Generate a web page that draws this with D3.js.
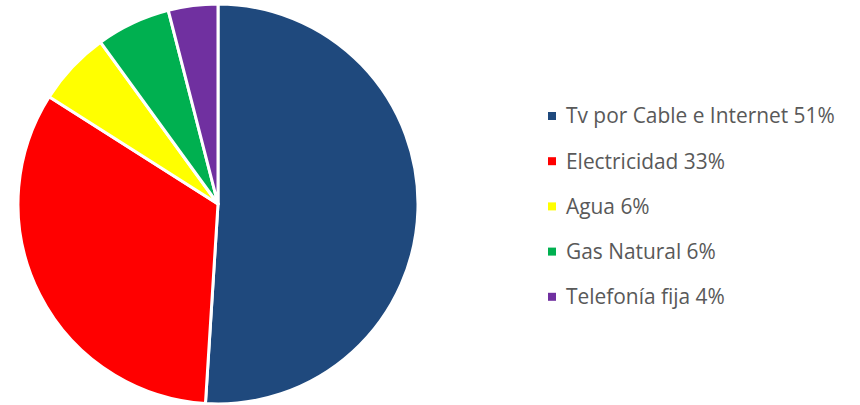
<!DOCTYPE html>
<html><head><meta charset="utf-8">
<script src="https://cdn.jsdelivr.net/npm/d3@7"></script>
<style>body{margin:0;background:#fff;}</style>
</head><body>
<svg id="c" width="860" height="405"></svg>
<script>
const categories = ["Tv por Cable e Internet", "Electricidad", "Agua", "Gas Natural", "Telefonía fija"];
const values = [51, 33, 6, 6, 4];
const colors = ["#1F497D", "#FF0000", "#FFFF00", "#00B050", "#7030A0"];

const svg = d3.select("#c");
const cx = 218, cy = 204, r = 200;
const pie = d3.pie().sort(null).value(d => d.v);
const data = categories.map((c, i) => ({c, v: values[i], col: colors[i]}));
const arc = d3.arc().innerRadius(0).outerRadius(r);
svg.append("g").attr("transform", `translate(${cx},${cy})`)
  .selectAll("path").data(pie(data)).join("path")
  .attr("d", arc).attr("fill", d => d.data.col)
  .attr("stroke", "#fff").attr("stroke-width", 3).attr("stroke-linejoin", "round");

const leg = svg.append("g");
const rows = leg.selectAll("g").data(data).join("g")
  .attr("transform", (d, i) => `translate(548,${116 + i * 45.2})`);
rows.append("rect").attr("x", 0).attr("y", -4).attr("width", 8).attr("height", 8).attr("fill", d => d.col);
rows.append("text").attr("x", 18).attr("y", 0).attr("dy", "0.35em")
  .attr("font-family", "'Open Sans', sans-serif").attr("font-size", 20.9)
  .attr("fill", "#595959")
  .text(d => `${d.c} ${d.v}%`);
</script>
</body></html>
